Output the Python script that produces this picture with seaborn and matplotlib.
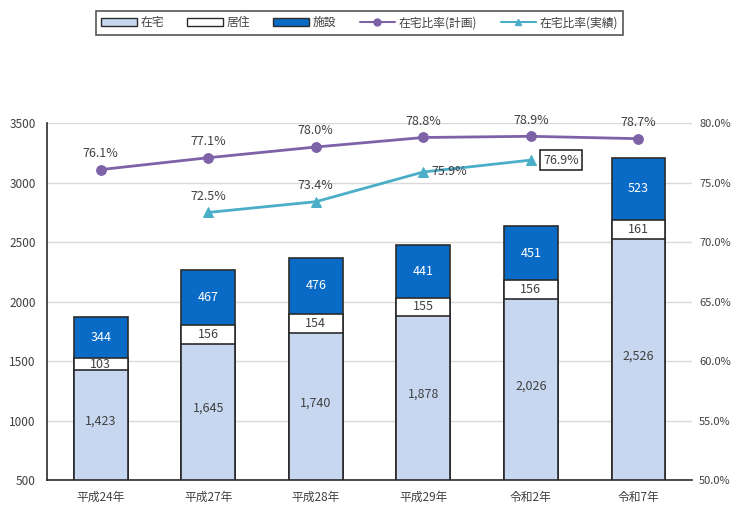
import numpy as np
import pandas as pd
import matplotlib
matplotlib.use("Agg")
import matplotlib.pyplot as plt
import seaborn as sns
from matplotlib.patches import Patch
from matplotlib.lines import Line2D
from matplotlib.ticker import FuncFormatter, MultipleLocator

# données
years = ["平成24年", "平成27年", "平成28年", "平成29年", "令和2年", "令和7年"]
zaitaku = [1423, 1645, 1740, 1878, 2026, 2526]
kyoju = [103, 156, 154, 155, 156, 161]
shisetsu = [344, 467, 476, 441, 451, 523]
ratio_plan = [76.1, 77.1, 78.0, 78.8, 78.9, 78.7]
ratio_actual = [np.nan, 72.5, 73.4, 75.9, 76.9, np.nan]

c_zaitaku = "#c6d7ef"
c_kyoju = "#ffffff"
c_shisetsu = "#0a6bc6"
c_plan = "#7d62a8"
c_actual = "#4aaec8"
edge = "#2b2b2b"
txt = "#404040"

sns.set_theme(style="white")
plt.rcParams["font.family"] = ["Noto Sans CJK JP", "DejaVu Sans"]

df = pd.DataFrame({"year": years, "zaitaku": zaitaku, "kyoju": kyoju, "shisetsu": shisetsu})
df["top2"] = df["zaitaku"] + df["kyoju"]
df["total"] = df["top2"] + df["shisetsu"]

fig = plt.figure(figsize=(7.34, 5.05), dpi=100)
ax = fig.add_axes([0.064, 0.0495, 0.879, 0.7065])

# barres empilées (totaux cumulés superposés)
for col, color in [("total", c_shisetsu), ("top2", c_kyoju), ("zaitaku", c_zaitaku)]:
    sns.barplot(data=df, x="year", y=col, color=color, width=0.5, ax=ax,
                edgecolor=edge, linewidth=1.2, saturation=1, zorder=2)

ax.set_ylim(500, 3500)
ax.yaxis.set_major_locator(MultipleLocator(500))
ax.grid(axis="y", color="#d9d9d9", linewidth=1, zorder=0)
ax.set_axisbelow(True)
ax.set_xlabel("")
ax.set_ylabel("")
for s in ["top", "right"]:
    ax.spines[s].set_visible(False)
ax.spines["left"].set_color(edge)
ax.spines["bottom"].set_color(edge)
ax.spines["left"].set_linewidth(1.2)
ax.spines["bottom"].set_linewidth(1.2)
ax.tick_params(axis="both", length=0, labelsize=8.5, colors=txt, pad=8)
ax.set_xlim(-0.5, 5.5)

# étiquettes des valeurs
for i in range(len(years)):
    ax.text(i, 500 + (zaitaku[i] - 500) / 2 + 30, f"{zaitaku[i]:,}", ha="center", va="center",
            fontsize=9, color=txt, zorder=5)
    ax.text(i, zaitaku[i] + kyoju[i] / 2, str(kyoju[i]), ha="center", va="center",
            fontsize=9, color=txt, zorder=5)
    ax.text(i, zaitaku[i] + kyoju[i] + shisetsu[i] / 2, str(shisetsu[i]), ha="center", va="center",
            fontsize=9, color="white", zorder=5)

# axe secondaire : ratios
ax2 = ax.twinx()
x = np.arange(len(years))
sns.lineplot(x=x, y=ratio_plan, ax=ax2, color=c_plan, marker="o", markersize=7,
             linewidth=2, markeredgecolor=c_plan)
sns.lineplot(x=x, y=ratio_actual, ax=ax2, color=c_actual, marker="^", markersize=7,
             linewidth=2, markeredgecolor=c_actual)
ax2.set_ylim(50, 80)
ax2.yaxis.set_major_locator(MultipleLocator(5))
ax2.yaxis.set_major_formatter(FuncFormatter(lambda v, p: f"{v:.1f}%"))
ax2.tick_params(axis="y", length=0, labelsize=8, colors=txt, pad=5)
for s in ["top", "right", "left", "bottom"]:
    ax2.spines[s].set_visible(False)
ax2.grid(False)

for i, v in enumerate(ratio_plan):
    ax2.annotate(f"{v:.1f}%", (i, v), textcoords="offset points", xytext=(0, 7),
                 ha="center", va="bottom", fontsize=9, color=txt)
for i, v in enumerate(ratio_actual):
    if np.isnan(v):
        continue
    if i in (1, 2):
        ax2.annotate(f"{v:.1f}%", (i, v), textcoords="offset points", xytext=(0, 7),
                     ha="center", va="bottom", fontsize=9, color=txt)
    elif i == 3:
        ax2.annotate(f"{v:.1f}%", (i, v), textcoords="offset points", xytext=(6, 0),
                     ha="left", va="center", fontsize=9, color=txt)
    else:
        ax2.annotate(f"{v:.1f}%", (i, v), textcoords="offset points", xytext=(9, 0),
                     ha="left", va="center", fontsize=9, color=txt,
                     bbox=dict(boxstyle="square,pad=0.25", fc="white", ec=edge, lw=1.2))

# légende
handles = [
    Patch(facecolor=c_zaitaku, edgecolor=edge, label="在宅"),
    Patch(facecolor=c_kyoju, edgecolor=edge, label="居住"),
    Patch(facecolor=c_shisetsu, edgecolor=edge, label="施設"),
    Line2D([0], [0], color=c_plan, marker="o", markersize=5, lw=1.5, label="在宅比率(計画)"),
    Line2D([0], [0], color=c_actual, marker="^", markersize=5, lw=1.5, label="在宅比率(実績)"),
]
leg = fig.legend(handles=handles, loc="center", bbox_to_anchor=(0.49, 0.955), ncol=5,
                 fontsize=8.5, frameon=True, fancybox=False, handlelength=3.0, handleheight=0.6,
                 columnspacing=2.0, handletextpad=0.3, borderpad=0.45)
leg.get_frame().set_edgecolor(edge)
leg.get_frame().set_linewidth(1.2)
for t in leg.get_texts():
    t.set_color(txt)

fig.savefig("out.png", dpi=100)
